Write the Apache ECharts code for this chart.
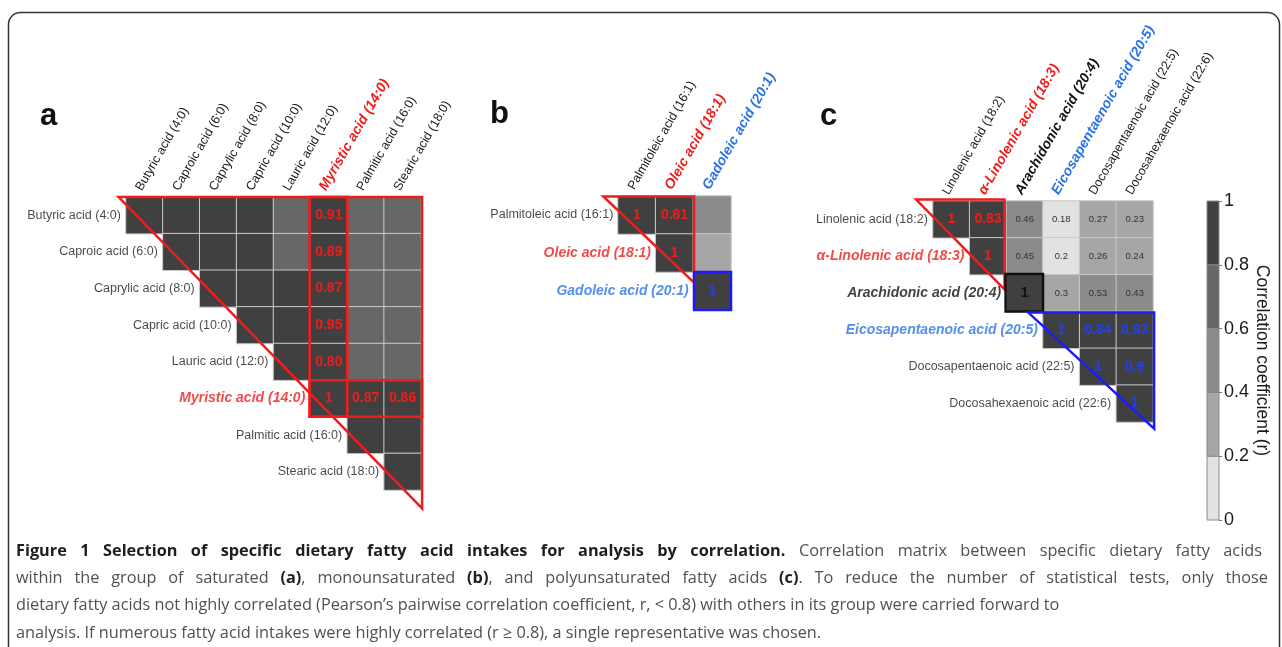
<!DOCTYPE html>
<html><head><meta charset="utf-8">
<script src="https://cdn.jsdelivr.net/npm/echarts@6/dist/echarts.min.js"></script>
<style>html,body{margin:0;padding:0;background:#fff}#c{width:1282px;height:647px}</style>
</head><body><div id="c"></div>
<script>
// ---------------- DATA ----------------
const aNames = ['Butyric acid (4:0)','Caproic acid (6:0)','Caprylic acid (8:0)','Capric acid (10:0)','Lauric acid (12:0)','Myristic acid (14:0)','Palmitic acid (16:0)','Stearic acid (18:0)'];
const aStyles = ['n','n','n','n','n','r','n','n'];
const aValues = [
  [1, 0.95, 0.93, 0.90, 0.72, 0.91, 0.70, 0.69],
  [null, 1, 0.96, 0.93, 0.75, 0.89, 0.68, 0.67],
  [null, null, 1, 0.97, 0.82, 0.87, 0.66, 0.65],
  [null, null, null, 1, 0.88, 0.95, 0.70, 0.69],
  [null, null, null, null, 1, 0.80, 0.74, 0.72],
  [null, null, null, null, null, 1, 0.87, 0.86],
  [null, null, null, null, null, null, 1, 0.94],
  [null, null, null, null, null, null, null, 1]
];
const aLabels = ['.....r..','.....r..','.....r..','.....r..','.....r..','.....rrr','........','........'];

const bNames = ['Palmitoleic acid (16:1)','Oleic acid (18:1)','Gadoleic acid (20:1)'];
const bStyles = ['n','r','b'];
const bValues = [
  [1, 0.81, 0.52],
  [null, 1, 0.35],
  [null, null, 1]
];
const bLabels = ['rr.','.r.','..b'];

const cNames = ['Linolenic acid (18:2)','\u03b1-Linolenic acid (18:3)','Arachidonic acid (20:4)','Eicosapentaenoic acid (20:5)','Docosapentaenoic acid (22:5)','Docosahexaenoic acid (22:6)'];
const cStyles = ['n','r','k','b','n','n'];
const cValues = [
  [1, 0.83, 0.46, 0.18, 0.27, 0.23],
  [null, 1, 0.45, 0.2, 0.26, 0.24],
  [null, null, 1, 0.3, 0.53, 0.43],
  [null, null, null, 1, 0.84, 0.93],
  [null, null, null, null, 1, 0.9],
  [null, null, null, null, null, 1]
];
const cLabels = ['rrssss','.rssss','..ksss','...bbb','....bb','.....b'];

const colorBreaks = [0, 0.2, 0.4, 0.6, 0.8, 1];
const colorTicks = [0, 0.2, 0.4, 0.6, 0.8, 1];
const colorName = 'Correlation coefficient (r)';

const captionLines = [
  [['b','Figure 1 Selection of specific dietary fatty acid intakes for analysis by correlation.'],['n',' Correlation matrix between specific dietary fatty acids']],
  [['n','within the group of saturated '],['b','(a)'],['n',', monounsaturated '],['b','(b)'],['n',', and polyunsaturated fatty acids '],['b','(c)'],['n','. To reduce the number of statistical tests, only those']],
  [['n','dietary fatty acids not highly correlated (Pearson\u2019s pairwise correlation coefficient, r, < 0.8) with others in its group were carried forward to']],
  [['n','analysis. If numerous fatty acid intakes were highly correlated (r \u2265 0.8), a single representative was chosen.']]
];

// ---------------- STYLE ----------------
const FONT = '"Liberation Sans", Arial, Helvetica, sans-serif';
const CAP_FONT = '"Open Sans", sans-serif';
const CAP_SIZE = 16.3;
const CAP_RIGHTS = [1262, 1268, null, null]; // justified line ends
const RED = '#f01c1c';
const BLUE_T = '#2a72e8';
const BLUE_V = '#2040f0';
const BLUE_L = '#1a1aff';
const SHADES = ['#e2e2e2', '#a6a6a6', '#8b8b8b', '#676767', '#404040'];

const RICH = {
  n: {color: '#1a1a1a', fontSize: 12.5, fontFamily: FONT},
  r: {color: RED, fontSize: 14, fontWeight: 'bold', fontStyle: 'italic', fontFamily: FONT},
  b: {color: BLUE_T, fontSize: 14, fontWeight: 'bold', fontStyle: 'italic', fontFamily: FONT},
  k: {color: '#111', fontSize: 14, fontWeight: 'bold', fontStyle: 'italic', fontFamily: FONT}
};
const VLBL = {
  r: {color: RED, fontSize: 14, fontWeight: 'bold'},
  b: {color: BLUE_V, fontSize: 14, fontWeight: 'bold'},
  k: {color: '#111', fontSize: 14, fontWeight: 'bold'},
  s: {color: '#333', fontSize: 9.5}
};

const GRIDS = [
  {left: 126, top: 197, width: 295, height: 293},
  {left: 618, top: 196, width: 113, height: 114},
  {left: 933, top: 201, width: 220, height: 221},
  {left: 1207, top: 201, width: 12, height: 319}
];

// overlay shapes in cell units (0,0 = top-left corner of grid)
const OVERLAYS = [
  [
    {pts: [[-0.2, 0], [8.03, 0], [8.03, 8.5]], color: RED, w: 2.5},
    {pts: [[4.98, 0], [6.0, 0], [6.0, 6.0], [4.98, 6.0]], color: RED, w: 2.5},
    {pts: [[4.98, 5.0], [8.03, 5.0], [8.03, 6.0], [4.98, 6.0]], color: RED, w: 2.5}
  ],
  [
    {pts: [[-0.39, 0.01], [2.02, 0.01], [2.02, 2.28]], color: RED, w: 2.5},
    {pts: [[2.02, 2.0], [3.0, 2.0], [3.0, 3.0], [2.02, 3.0]], color: BLUE_L, w: 2.5}
  ],
  [
    {pts: [[-0.46, -0.04], [1.95, -0.04], [1.95, 2.4]], color: RED, w: 2.5},
    {pts: [[1.98, 1.98], [3.0, 1.98], [3.0, 3.0], [1.98, 3.0]], color: '#111', w: 2.5},
    {pts: [[2.6, 3.03], [6.03, 3.03], [6.03, 6.18]], color: BLUE_L, w: 2.5}
  ]
];

function cells(values, labels, fmt) {
  const out = [];
  values.forEach((row, r) => row.forEach((v, c) => {
    if (v === null) return;
    const code = labels[r][c];
    const label = code === '.' ? {show: false}
      : Object.assign({show: true, formatter: fmt(v), fontFamily: FONT}, VLBL[code]);
    out.push({value: [c, r, v], label: label});
  }));
  return out;
}
const fmtA = v => v === 1 ? '1' : v.toFixed(2);
const fmtC = v => String(v);

const panels = [
  {names: aNames, styles: aStyles, data: cells(aValues, aLabels, fmtA)},
  {names: bNames, styles: bStyles, data: cells(bValues, bLabels, fmtC)},
  {names: cNames, styles: cStyles, data: cells(cValues, cLabels, fmtC)}
];

const xAxes = [], yAxes = [], series = [];
panels.forEach((p, g) => {
  xAxes.push({
    type: 'category', gridIndex: g, position: 'top', data: p.names,
    axisLine: {show: false}, axisTick: {show: false}, splitLine: {show: false},
    axisLabel: {
      rotate: -60, align: 'left', verticalAlign: 'bottom', margin: 4, interval: 0,
      formatter: (v, i) => '{' + p.styles[i] + '|' + v + '}', rich: RICH
    }
  });
  yAxes.push({type: 'category', gridIndex: g, inverse: true, data: p.names, show: false});
  series.push({
    type: 'heatmap', xAxisIndex: g, yAxisIndex: g, data: p.data,
    itemStyle: {borderColor: '#c9c9c9', borderWidth: 1},
    label: {show: false}, emphasis: {disabled: true}, silent: true
  });
  series.push({
    type: 'scatter', xAxisIndex: g, yAxisIndex: g, symbolSize: 0, silent: true,
    data: p.names.map((n, i) => [i, i]),
    label: {
      show: true, position: 'left', distance: 23.5,
      formatter: prm => '{' + p.styles[prm.dataIndex] + '|' + p.names[prm.dataIndex] + '}',
      rich: RICH
    }
  });
  const shapes = OVERLAYS[g];
  series.push({
    type: 'custom', xAxisIndex: g, yAxisIndex: g, silent: true, z: 10, clip: false,
    data: shapes.map((s, i) => [0, 0, i]),
    renderItem: (params, api) => {
      const s = shapes[params.dataIndex];
      const p0 = api.coord([0, 0]);
      const sz = api.size([1, 1]);
      const tl = [p0[0] - sz[0] / 2, p0[1] - sz[1] / 2];
      const pts = s.pts.map(q => [tl[0] + q[0] * sz[0], tl[1] + q[1] * sz[1]]);
      return {type: 'polygon', shape: {points: pts}, style: {fill: 'none', stroke: s.color, lineWidth: s.w, lineJoin: 'miter'}};
    }
  });
});

// colour bar
xAxes.push({type: 'category', gridIndex: 3, data: [''], show: false});
yAxes.push({
  type: 'value', gridIndex: 3, position: 'right', min: colorTicks[0], max: colorTicks[colorTicks.length - 1], interval: 0.2,
  axisLine: {show: false}, splitLine: {show: false},
  axisTick: {show: true, length: 3, lineStyle: {color: '#777'}},
  axisLabel: {fontSize: 18, color: '#1a1a1a', fontFamily: FONT, margin: 5},
  name: colorName, nameLocation: 'middle', nameRotate: -90, nameGap: 34,
  nameTextStyle: {fontSize: 17.5, color: '#1a1a1a', fontFamily: FONT}
});
const cbPieces = colorBreaks.slice(0, -1).map((lo, i) => [0, lo, colorBreaks[i + 1], i]);
series.push({
  type: 'custom', xAxisIndex: 3, yAxisIndex: 3, silent: true,
  data: cbPieces,
  renderItem: (params, api) => {
    const lo = api.coord([0, api.value(1)]);
    const hi = api.coord([0, api.value(2)]);
    const w = api.size([1, 0])[0];
    return {type: 'rect', shape: {x: lo[0] - w / 2, y: hi[1], width: w, height: lo[1] - hi[1]},
      style: {fill: SHADES[api.value(3)], stroke: '#8a8a8a', lineWidth: 1}};
  }
});

const pieces = [
  {gte: colorBreaks[0], lte: colorBreaks[1], color: SHADES[0]},
  {gt: colorBreaks[1], lt: colorBreaks[2], color: SHADES[1]},
  {gte: colorBreaks[2], lt: colorBreaks[3], color: SHADES[2]},
  {gte: colorBreaks[3], lt: colorBreaks[4], color: SHADES[3]},
  {gte: colorBreaks[4], lte: colorBreaks[5], color: SHADES[4]}
];

// caption (word-placed so that the first lines are justified like the reference)
const CAP_RICH = {
  b: {fill: '#1e1e1e', fontWeight: 'bold', fontSize: CAP_SIZE, fontFamily: CAP_FONT},
  n: {fill: '#505050', fontSize: CAP_SIZE, fontFamily: CAP_FONT}
};
const mctx = document.createElement('canvas').getContext('2d');
function measure(st, tx) {
  mctx.font = (st === 'b' ? 'bold ' : '') + CAP_SIZE + 'px "Open Sans"';
  return mctx.measureText(tx).width;
}
function toWords(line) {
  const ws = [[]];
  line.forEach(([st, tx]) => {
    tx.split(/( )/).forEach(part => {
      if (part === ' ') ws.push([]);
      else if (part) ws[ws.length - 1].push([st, part]);
    });
  });
  return ws.filter(w => w.length);
}
const CAP_LEFT = 16, CAP_Y0 = 551, CAP_DY = 27.4;
const captionGraphics = [];
captionLines.forEach((line, li) => {
  const ws = toWords(line);
  const widths = ws.map(w => w.reduce((s, p) => s + measure(p[0], p[1]), 0));
  const total = widths.reduce((a, b) => a + b, 0);
  const right = CAP_RIGHTS[li];
  const gap = right ? (right - CAP_LEFT - total) / (ws.length - 1) : measure('n', ' ');
  let x = CAP_LEFT;
  ws.forEach((w, wi) => {
    captionGraphics.push({
      type: 'text', x: x, y: CAP_Y0 + li * CAP_DY,
      style: {text: w.map(p => '{' + p[0] + '|' + p[1] + '}').join(''), rich: CAP_RICH, verticalAlign: 'middle'}
    });
    x += widths[wi] + gap;
  });
});

const option = {
  animation: false,
  grid: GRIDS.map(g => Object.assign({outerBoundsMode: 'none', containLabel: false}, g)),
  xAxis: xAxes, yAxis: yAxes,
  visualMap: {type: 'piecewise', show: false, seriesIndex: [0, 3, 6], dimension: 2, pieces: pieces},
  series: series,
  graphic: [
    {type: 'rect', shape: {x: 8.5, y: 12.5, width: 1271, height: 700, r: 12}, style: {fill: 'none', stroke: '#333', lineWidth: 1.5}},
    {type: 'text', left: 40, top: 101, style: {text: 'a', fontSize: 31, fontWeight: 'bold', fontFamily: FONT, fill: '#111'}},
    {type: 'text', left: 490, top: 99, style: {text: 'b', fontSize: 31, fontWeight: 'bold', fontFamily: FONT, fill: '#111'}},
    {type: 'text', left: 820, top: 101, style: {text: 'c', fontSize: 31, fontWeight: 'bold', fontFamily: FONT, fill: '#111'}}
  ].concat(captionGraphics)
};

const chart = echarts.init(document.getElementById('c'), null, {renderer: 'canvas'});
chart.setOption(option);
</script>
</body></html>
